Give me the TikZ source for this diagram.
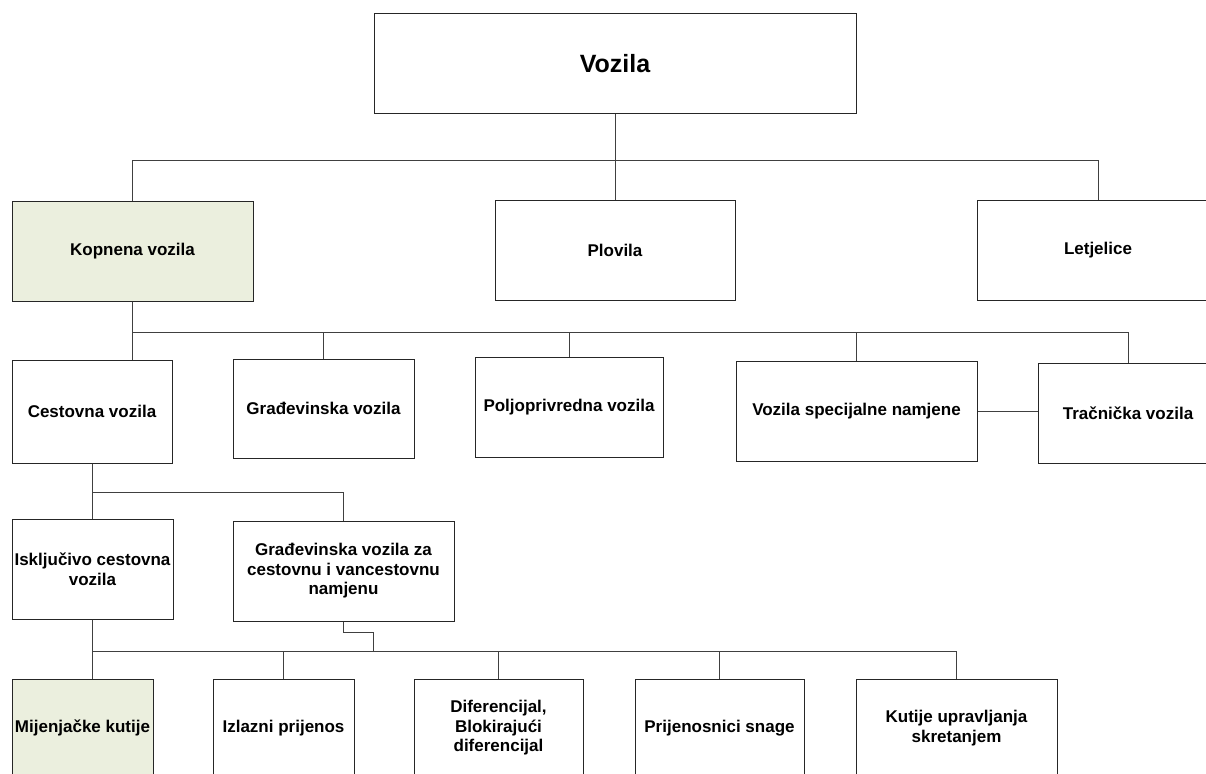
\documentclass[tikz,border=0pt]{standalone}
\usepackage{fontspec}
\setmainfont{Liberation Sans}
\usetikzlibrary{calc}
\definecolor{kopgreen}{RGB}{235,239,222}
\tikzset{
  box/.style={draw=black!85, line width=1pt, fill=white, align=center, inner sep=0pt,
    font=\bfseries\fontsize{17}{19.5}\selectfont},
  link/.style={draw=black!75, line width=0.9pt},
}

\begin{document}
\begin{tikzpicture}[x=1pt,y=-1pt]
			%%%%% START %%%%%
			\useasboundingbox (0,0) rectangle (1206,773);
			\clip (0,0) rectangle (1206,773);
			
			\node[box, minimum width=482pt, minimum height=100pt, font=\bfseries\fontsize{25}{30}\selectfont] (vozila) at (615,64) {Vozila};
			
			\node[box, fill=kopgreen, minimum width=241pt, minimum height=100pt] (kopnena) at (132.5,251) {Kopnena vozila};
			\node[box, minimum width=240pt, minimum height=100pt] (plovila) at (615,250) {Plovila};
			\node[box, minimum width=242pt, minimum height=100pt] (letjelice) at (1098,250) {Letjelice};
			
			\node[box, minimum width=160pt, minimum height=103pt] (cestovna) at (92,411.5) {Cestovna vozila};
			\node[box, minimum width=181pt, minimum height=99pt] (gradj) at (323.5,408.5) {Građevinska vozila};
			\node[box, minimum width=188pt, minimum height=100pt] (polj) at (569,407) {Poljoprivredna vozila};
			\node[box, minimum width=241pt, minimum height=100pt] (spec) at (856.5,411) {Vozila specijalne namjene};
			\node[box, minimum width=180pt, minimum height=100pt] (trac) at (1128,413) {Tračnička vozila};
			
			\node[box, minimum width=161pt, minimum height=100pt] (iskljucivo) at (92.5,569) {Isključivo cestovna\\vozila};
			\node[box, minimum width=221pt, minimum height=100pt] (gradjcest) at (343.5,571) {Građevinska vozila za\\cestovnu i vancestovnu\\namjenu};
			
			\node[box, fill=kopgreen, minimum width=141pt, minimum height=98pt] (mijenjacke) at (82.5,728) {Mijenjačke kutije};
			\node[box, minimum width=141pt, minimum height=98pt] (izlazni) at (283.5,728) {Izlazni prijenos};
			\node[box, minimum width=169pt, minimum height=98pt] (diferencijal) at (498.5,728) {Diferencijal,\\Blokirajući\\diferencijal};
			\node[box, minimum width=169pt, minimum height=98pt] (prijenosnici) at (719.5,728) {Prijenosnici snage};
			\node[box, minimum width=201pt, minimum height=98pt] (kutije) at (956.5,728) {Kutije upravljanja\\skretanjem};
			
			% vozila
			\draw[link] (vozila.south) -- ++(0,46) -| (kopnena.north);
			\draw[link] (vozila.south) -- (plovila.north);
			\draw[link] (vozila.south) -- ++(0,46) -| (letjelice.north);
			
			% kopnena vozila
			\draw[link] (kopnena.south) -- (kopnena.south |- cestovna.north);
			\foreach \n in {gradj,polj,spec,trac}
				\draw[link] (kopnena.south) -- ++(0,31) -| (\n.north);
			\draw[link] (spec.east) -- (spec.east -| trac.west);
			
			% cestovna vozila
			\draw[link] (cestovna.south) -- (cestovna.south |- iskljucivo.north);
			\draw[link] (cestovna.south) -- ++(0,29) -| (gradjcest.north);
			
			% sklopovi
			\draw[link] (iskljucivo.south) -- (iskljucivo.south |- mijenjacke.north);
			\foreach \n in {izlazni,diferencijal,prijenosnici,kutije}
				\draw[link] (iskljucivo.south) -- ++(0,32) -| (\n.north);
			\draw[link] (gradjcest.south) -- ++(0,11) -| ($(gradjcest.south)+(30,30)$);
			
			%%%%% END %%%%%
\end{tikzpicture}
\end{document}
